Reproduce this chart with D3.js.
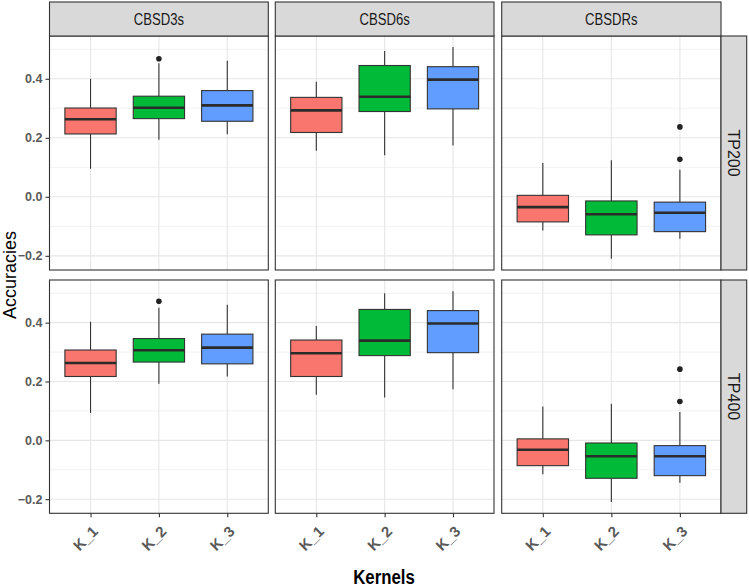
<!DOCTYPE html>
<html><head><meta charset="utf-8">
<script src="https://cdn.jsdelivr.net/npm/d3@7"></script>
<style>
html,body{margin:0;padding:0;background:#fff;}
svg{display:block;}
text{font-family:"Liberation Sans",Arial,sans-serif;}
</style></head>
<body>
<svg id="chart" width="749" height="587"></svg>
<script>
// ---- data ----
const kernels = ["K_1", "K_2", "K_3"];
const methods = ["CBSD3s", "CBSD6s", "CBSDRs"];
const sizes = ["TP200", "TP400"];
const kernelColors = ["#F8766D", "#00BA38", "#619CFF"];
const yTicks = [-0.2, 0.0, 0.2, 0.4];
const yMinorTicks = [-0.1, 0.1, 0.3, 0.5];

// [size][method][kernel]
const whiskerLow = [
  [[0.095, 0.193, 0.212], [0.156, 0.141, 0.174], [-0.114, -0.210, -0.142]],
  [[0.093, 0.192, 0.217], [0.155, 0.146, 0.174], [-0.115, -0.210, -0.144]]
];
const q1 = [
  [[0.213, 0.265, 0.256], [0.218, 0.289, 0.298], [-0.085, -0.129, -0.118]],
  [[0.217, 0.266, 0.260], [0.217, 0.288, 0.298], [-0.086, -0.129, -0.120]]
];
const median = [
  [[0.263, 0.302, 0.310], [0.293, 0.339, 0.397], [-0.035, -0.059, -0.054]],
  [[0.263, 0.306, 0.315], [0.296, 0.339, 0.397], [-0.032, -0.054, -0.054]]
];
const q3 = [
  [[0.301, 0.341, 0.360], [0.337, 0.445, 0.441], [0.005, -0.014, -0.018]],
  [[0.307, 0.346, 0.361], [0.341, 0.445, 0.441], [0.005, -0.009, -0.018]]
];
const whiskerHigh = [
  [[0.400, 0.453, 0.461], [0.390, 0.494, 0.508], [0.115, 0.124, 0.092]],
  [[0.403, 0.451, 0.461], [0.389, 0.500, 0.507], [0.115, 0.124, 0.096]]
];
const outliers = [
  [[[], [0.468], []], [[], [], []], [[], [], [0.237, 0.127]]],
  [[[], [0.473], []], [[], [], []], [[], [], [0.242, 0.132]]]
];

// ---- layout ----
const svg = d3.select("#chart");
const colX = [[49.5, 268.3], [275.3, 494], [501.7, 721]];
const rowY = [[36, 270], [280, 513.3]];
const stripTop = 2, stripRightW = 25.7;
const yDomain = [-0.248, 0.545];
const border = "#333333";

sizes.forEach((sz, r) => {
  const y = d3.scaleLinear().domain(yDomain).range([rowY[r][1], rowY[r][0]]);
  methods.forEach((m, c) => {
    const x = d3.scalePoint().domain(kernels).range(colX[c]).padding(0.6);
    const g = svg.append("g");
    const W = colX[c][1] - colX[c][0], H = rowY[r][1] - rowY[r][0];
    g.append("rect").attr("x", colX[c][0]).attr("y", rowY[r][0]).attr("width", W).attr("height", H).attr("fill", "#fff");
    // grid
    g.selectAll(".gmin").data(yMinorTicks).join("line")
      .attr("x1", colX[c][0]).attr("x2", colX[c][1])
      .attr("y1", d => y(d)).attr("y2", d => y(d))
      .attr("stroke", "#f2f2f2").attr("stroke-width", 1);
    g.selectAll(".gmaj").data(yTicks).join("line")
      .attr("x1", colX[c][0]).attr("x2", colX[c][1])
      .attr("y1", d => y(d)).attr("y2", d => y(d))
      .attr("stroke", "#e6e6e6").attr("stroke-width", 1.1);
    g.selectAll(".gx").data(kernels).join("line")
      .attr("x1", d => x(d)).attr("x2", d => x(d))
      .attr("y1", rowY[r][0]).attr("y2", rowY[r][1])
      .attr("stroke", "#e6e6e6").attr("stroke-width", 1.1);

    const bw = x.step() * 0.75;
    kernels.forEach((k, i) => {
      const cx = x(k);
      // whiskers
      g.append("line").attr("x1", cx).attr("x2", cx)
        .attr("y1", y(whiskerHigh[r][c][i])).attr("y2", y(q3[r][c][i]))
        .attr("stroke", border).attr("stroke-width", 1.1);
      g.append("line").attr("x1", cx).attr("x2", cx)
        .attr("y1", y(q1[r][c][i])).attr("y2", y(whiskerLow[r][c][i]))
        .attr("stroke", border).attr("stroke-width", 1.1);
      // box
      g.append("rect").attr("x", cx - bw / 2).attr("y", y(q3[r][c][i]))
        .attr("width", bw).attr("height", y(q1[r][c][i]) - y(q3[r][c][i]))
        .attr("fill", kernelColors[i]).attr("stroke", border).attr("stroke-width", 1.1);
      // median
      g.append("line").attr("x1", cx - bw / 2).attr("x2", cx + bw / 2)
        .attr("y1", y(median[r][c][i])).attr("y2", y(median[r][c][i]))
        .attr("stroke", "#2b2b2b").attr("stroke-width", 2.6);
      // outliers
      g.selectAll(null).data(outliers[r][c][i]).join("circle")
        .attr("cx", cx).attr("cy", d => y(d)).attr("r", 2.8).attr("fill", "#222");
    });
    // panel border
    g.append("rect").attr("x", colX[c][0]).attr("y", rowY[r][0]).attr("width", W).attr("height", H)
      .attr("fill", "none").attr("stroke", border).attr("stroke-width", 1.1);

    // top strips
    if (r === 0) {
      g.append("rect").attr("x", colX[c][0]).attr("y", stripTop).attr("width", W).attr("height", rowY[0][0] - stripTop)
        .attr("fill", "#d9d9d9").attr("stroke", border).attr("stroke-width", 1.1);
      const cxm = (colX[c][0] + colX[c][1]) / 2;
      g.append("text").attr("transform", `translate(${cxm},${(stripTop + rowY[0][0]) / 2 + 5.5}) scale(0.82,1)`)
        .attr("text-anchor", "middle").attr("font-size", 16).attr("fill", "#1a1a1a").text(m);
    }
    // right strips
    if (c === 2) {
      g.append("rect").attr("x", colX[2][1]).attr("y", rowY[r][0]).attr("width", stripRightW).attr("height", H)
        .attr("fill", "#d9d9d9").attr("stroke", border).attr("stroke-width", 1.1);
      const cxs = colX[2][1] + stripRightW / 2, cys = (rowY[r][0] + rowY[r][1]) / 2;
      g.append("text").attr("transform", `translate(${cxs - 5.5},${cys}) rotate(90)`)
        .attr("text-anchor", "middle").attr("font-size", 16).attr("fill", "#1a1a1a").text(sz);
    }
    // y axis on first column
    if (c === 0) {
      const ax = svg.append("g").attr("transform", `translate(${colX[0][0]},0)`)
        .call(d3.axisLeft(y).tickValues(yTicks).tickSize(4).tickPadding(3).tickFormat(d3.format(".1f")));
      ax.select(".domain").remove();
      ax.selectAll(".tick line").attr("stroke", border).attr("stroke-width", 1.1);
      ax.selectAll(".tick text").attr("font-size", 12.5).attr("font-weight", "bold").attr("fill", "#5a5a5a")
        .attr("font-family", "'Liberation Sans', Arial, sans-serif");
    }
    // x axis on bottom row
    if (r === 1) {
      const ax = svg.append("g").attr("transform", `translate(0,${rowY[1][1]})`)
        .call(d3.axisBottom(x).tickSize(4).tickPadding(3));
      ax.select(".domain").remove();
      ax.selectAll(".tick line").attr("stroke", border).attr("stroke-width", 1.1);
      ax.selectAll(".tick text")
        .attr("font-size", 15).attr("font-weight", "bold").attr("fill", "#5a5a5a")
        .attr("font-family", "'Liberation Sans', Arial, sans-serif")
        .attr("text-anchor", "end")
        .attr("y", 0).attr("dy", 0)
        .attr("transform", "translate(8,19) rotate(-45)");
    }
  });
});

// axis titles
svg.append("text").attr("transform", "translate(384,584) scale(0.82,1)")
  .attr("text-anchor", "middle").attr("font-size", 20.5).attr("font-weight", "bold").attr("fill", "#000").text("Kernels");
svg.append("text").attr("transform", "translate(16,275) rotate(-90)")
  .attr("text-anchor", "middle").attr("font-size", 18).attr("fill", "#000").text("Accuracies");
</script>
</body></html>
